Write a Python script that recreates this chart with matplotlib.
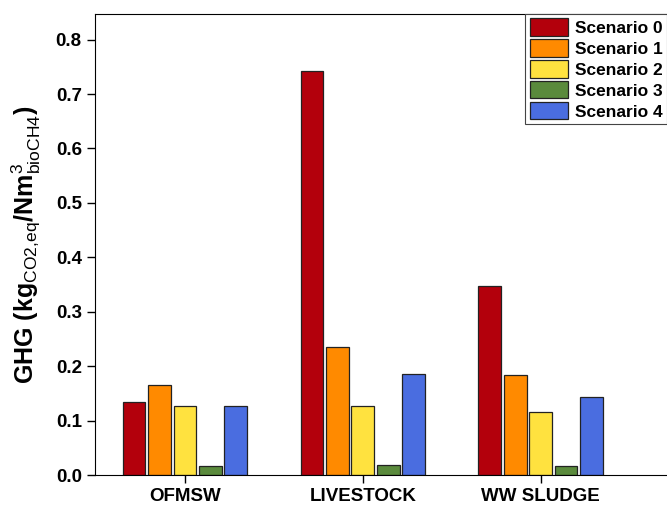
import numpy as np
from matplotlib import pyplot as plt

plt.rcParams['font.family'] = ['Liberation Sans', 'DejaVu Sans']
plt.rcParams['mathtext.fontset'] = 'custom'
plt.rcParams['mathtext.rm'] = 'Liberation Sans'
plt.rcParams['mathtext.bf'] = 'Liberation Sans:bold'

categories = ['OFMSW', 'LIVESTOCK', 'WW SLUDGE']
scenarios = ['Scenario 0', 'Scenario 1', 'Scenario 2', 'Scenario 3', 'Scenario 4']
s0 = [0.134, 0.742, 0.347]
s1 = [0.165, 0.236, 0.184]
s2 = [0.127, 0.127, 0.116]
s3 = [0.017, 0.018, 0.017]
s4 = [0.127, 0.186, 0.143]
colors = ['#B3000C', '#FF8A00', '#FFE23F', '#5A8A3C', '#4A6DE0']


def main():
    fig = plt.figure(figsize=(6.67, 5.09), dpi=100)
    ax = fig.add_axes([95 / 667, 34 / 509, 1 - 95 / 667, 461 / 509])
    x = np.arange(len(categories))
    step = 0.143
    for i, (vals, lab) in enumerate(zip([s0, s1, s2, s3, s4], scenarios)):
        ax.bar(x + (i - 2) * step, vals, width=0.127, color=colors[i],
               edgecolor='#222222', linewidth=0.9, label=lab)

    ax.set_xlim(-0.505, 2.71)
    ax.set_ylim(0, 0.847)
    ax.set_xticks(x)
    ax.set_xticklabels(categories, fontsize=13.5, fontweight='bold')
    ax.set_yticks(np.arange(0, 0.81, 0.1))
    ax.set_yticklabels(['%.1f' % v for v in np.arange(0, 0.81, 0.1)],
                       fontsize=13.5, fontweight='bold')
    ax.spines['right'].set_visible(False)
    ax.tick_params(direction='out', length=6, width=1)
    ax.set_ylabel(r'GHG (kg$_{\mathrm{CO2{,}eq}}$/Nm$^{3}_{\mathrm{bioCH4}}$)',
                  fontsize=18, fontweight='bold', labelpad=9)
    leg = ax.legend(loc='upper right', bbox_to_anchor=(1.0, 1.0),
                    prop={'weight': 'bold', 'size': 12.5}, fancybox=False,
                    edgecolor='#444444', framealpha=1, borderpad=0.25,
                    labelspacing=0.2, handlelength=2.2, handleheight=1.15,
                    handletextpad=0.4, borderaxespad=0)
    leg.get_frame().set_linewidth(0.8)
    plt.savefig('out.png', dpi=100)


if __name__ == "__main__":
    main()
